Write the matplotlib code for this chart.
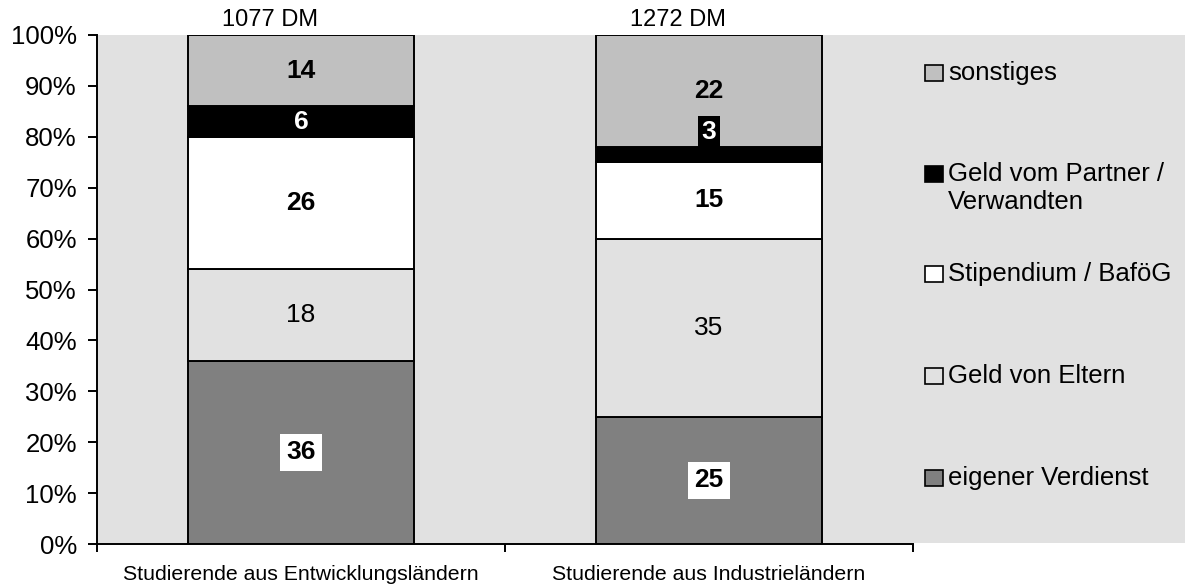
import numpy as np
import matplotlib.pyplot as plt
import matplotlib.patches as mpatches

plt.rcParams['font.family'] = ['Liberation Sans', 'DejaVu Sans']

groups = ['Studierende aus Entwicklungsländern', 'Studierende aus Industrieländern']
totals = ['1077 DM', '1272 DM']

series = ['eigener Verdienst', 'Geld von Eltern', 'Stipendium / BaföG',
          'Geld vom Partner /\nVerwandten', 'sonstiges']
verdienst = [36, 25]
eltern = [18, 35]
stipendium = [26, 15]
partner = [6, 3]
sonstiges = [14, 22]
values = [verdienst, eltern, stipendium, partner, sonstiges]

bg = '#e1e1e1'
colors = ['#808080', bg, '#ffffff', '#000000', '#c0c0c0']
label_bold = [True, False, True, True, True]
label_color = ['black', 'black', 'black', 'white', 'black']
label_box = ['white', None, None, None, None]

W, H = 1185, 584
fig = plt.figure(figsize=(W / 100, H / 100), dpi=100)
ax = fig.add_axes([97 / W, 1 - 544 / H, (913 - 97) / W, (544 - 35) / H])
ax.set_facecolor('none')
# grey plot area continues under the legend
fig.patches.append(mpatches.Rectangle((97 / W, 1 - 543 / H), 1 - 97 / W, 508 / H,
                                      transform=fig.transFigure, facecolor=bg,
                                      edgecolor='none', zorder=-10))

x = np.arange(len(groups))
bottom = np.zeros(len(groups))
for name, vals, col, bold, tcol, box in zip(series, values, colors, label_bold,
                                            label_color, label_box):
    vals = np.array(vals, dtype=float)
    ax.bar(x, vals, 0.556, bottom=bottom, color=col, edgecolor='black',
           linewidth=1.4, zorder=2)
    for xi, v, b in zip(x, vals, bottom):
        y = b + v / 2
        kw = {}
        if box is not None:
            kw['bbox'] = dict(boxstyle='square,pad=0.25', facecolor=box, edgecolor='none')
        if v < 5:
            # too thin: label sits above the segment on a patch of its colour
            y = b + v + 3
            kw['bbox'] = dict(boxstyle='square,pad=0.15', facecolor=col, edgecolor='none')
        ax.text(xi, y, '%d' % v, ha='center', va='center', fontsize=19,
                fontweight='bold' if bold else 'normal', color=tcol, zorder=5, **kw)
    bottom += vals

for xi, t in zip(x, totals):
    ax.text(xi - 0.075, 100.8, t, ha='center', va='bottom', fontsize=17, clip_on=False)

ax.set_xlim(-0.5, 1.5)
ax.set_ylim(0, 100)
ax.set_yticks(np.arange(0, 101, 10))
ax.set_yticklabels(['%d%%' % v for v in range(0, 101, 10)], fontsize=18.5)
ax.set_xticks([-0.5, 0.5, 1.5])
ax.set_xticklabels([])
ax.set_xticks(x, minor=True)
ax.set_xticklabels(groups, minor=True, fontsize=15.3)
ax.tick_params(axis='x', which='minor', length=0, pad=15)
ax.tick_params(axis='x', which='major', length=6, width=1.4, direction='out')
ax.tick_params(axis='y', length=6.5, width=1.4, pad=8)
for s in ['top', 'right']:
    ax.spines[s].set_visible(False)
for s in ['left', 'bottom']:
    ax.spines[s].set_linewidth(1.4)

# legend, drawn as in the source: first lines evenly spaced
leg_y = [477, 375, 273, 173, 72]
for name, col, yy in zip(series, colors, leg_y):
    fig.patches.append(mpatches.Rectangle((925 / W, 1 - (yy + 9) / H), 18 / W, 16 / H,
                                          transform=fig.transFigure, facecolor=col,
                                          edgecolor='black', linewidth=1.2))
    fig.text(948 / W, 1 - (yy - 11) / H, name, ha='left', va='top', fontsize=18.5,
             linespacing=1.22)

fig.savefig('out.png', dpi=100)
